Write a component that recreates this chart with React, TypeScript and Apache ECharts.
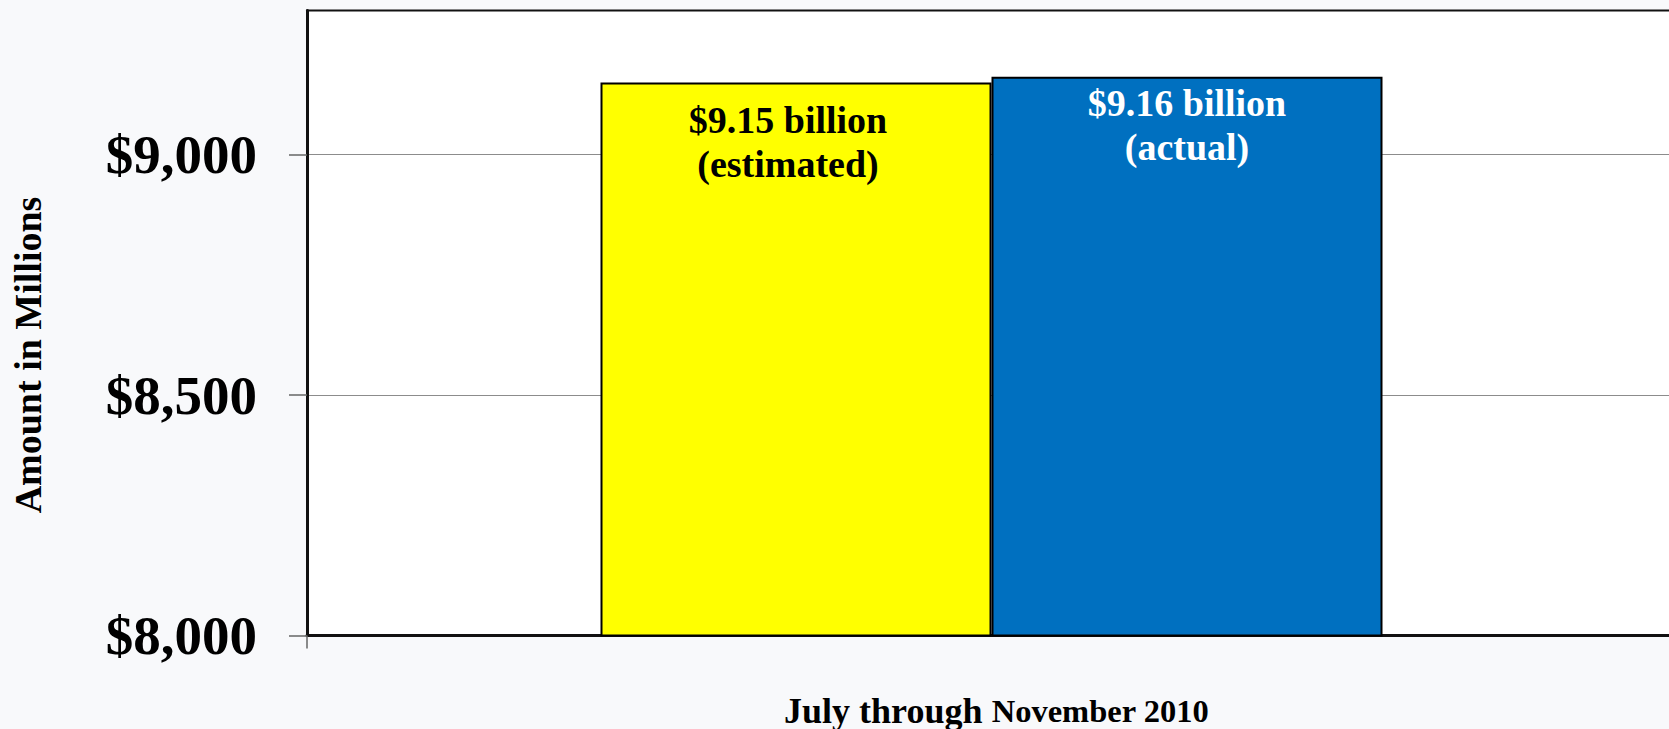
import React, { useEffect, useRef } from "react";
import * as echarts from "echarts";

const categories = ["July through November 2010"];
const seriesNames = ["estimated", "actual"];
const estimatedValues = [9150];
const actualValues = [9162];
const yTicks = [8000, 8500, 9000];
const yAxisTitle = "Amount in Millions";

const FONT = "'Liberation Serif', 'Times New Roman', serif";

export default function App() {
  const ref = useRef<HTMLDivElement>(null);

  useEffect(() => {
    if (!ref.current) return;
    const chart = echarts.init(ref.current, undefined, { renderer: "svg" });
    const labelFmt = (name: string) => (p: any) =>
      `$${(p.value / 1000).toFixed(2)} billion\n(${name})`;

    chart.setOption({
      animation: false,
      backgroundColor: "#f8f9fb",
      grid: {
        left: 307,
        width: 1369,
        top: 10.5,
        bottom: 93.5,
        show: true,
        backgroundColor: "#ffffff",
        borderColor: "#111111",
        borderWidth: 2,
        containLabel: false,
        outerBoundsMode: "none",
      },
      xAxis: {
        type: "category",
        data: categories,
        axisLine: { show: true, lineStyle: { color: "#111111", width: 3 } },
        axisTick: { show: true, length: 13, lineStyle: { color: "#666666", width: 1.5 } },
        axisLabel: {
          margin: 55,
          color: "#000",
          padding: [0, 0, 0, 10],
          formatter: (v: string) => v.replace(/^(.*through) (.*)$/, "{a|$1 }{b|$2}"),
          rich: {
            a: { fontFamily: FONT, fontWeight: "bold", fontSize: 36, lineHeight: 40, color: "#000" },
            b: { fontFamily: FONT, fontWeight: "bold", fontSize: 32.5, lineHeight: 40, color: "#000" },
          },
        },
      },
      yAxis: {
        type: "value",
        min: 8000,
        max: 9300,
        interval: 500,
        axisLine: { show: true, lineStyle: { color: "#111111", width: 3 } },
        axisTick: {
          show: true,
          length: 18,
          customValues: yTicks,
          lineStyle: { color: "#666666", width: 1.5 },
        },
        splitLine: { show: true, lineStyle: { color: "#8c8c8c", width: 1 } },
        axisLabel: {
          customValues: yTicks,
          margin: 50,
          fontFamily: FONT,
          fontWeight: "bold",
          fontSize: 55,
          color: "#000",
          formatter: (v: number) => "$" + v.toLocaleString("en-US"),
        },
      },
      graphic: [
        {
          type: "text",
          x: 28,
          y: 355,
          rotation: Math.PI / 2,
          style: {
            text: yAxisTitle,
            font: `bold 38px ${FONT}`,
            fill: "#000",
            textAlign: "center",
            textVerticalAlign: "middle",
          },
        },
      ],
      series: [
        {
          name: seriesNames[0],
          type: "bar",
          data: estimatedValues,
          barWidth: 391,
          barGap: "0%",
          itemStyle: { color: "#ffff00", borderColor: "#000000", borderWidth: 2 },
          label: {
            show: true,
            position: "insideTop",
            distance: 15,
            offset: [-8, 0],
            formatter: labelFmt(seriesNames[0]),
            fontFamily: FONT,
            fontWeight: "bold",
            fontSize: 38,
            lineHeight: 44,
            color: "#000000",
          },
        },
        {
          name: seriesNames[1],
          type: "bar",
          data: actualValues,
          barWidth: 391,
          barGap: "0%",
          itemStyle: { color: "#0070c0", borderColor: "#000000", borderWidth: 2 },
          label: {
            show: true,
            position: "insideTop",
            distance: 4,
            formatter: labelFmt(seriesNames[1]),
            fontFamily: FONT,
            fontWeight: "bold",
            fontSize: 38,
            lineHeight: 44,
            color: "#ffffff",
          },
        },
      ],
    });
    return () => chart.dispose();
  }, []);

  return (
    <div
      ref={ref}
      style={{ position: "fixed", left: 0, top: 0, width: 1669, height: 729, background: "#f8f9fb" }}
    />
  );
}
